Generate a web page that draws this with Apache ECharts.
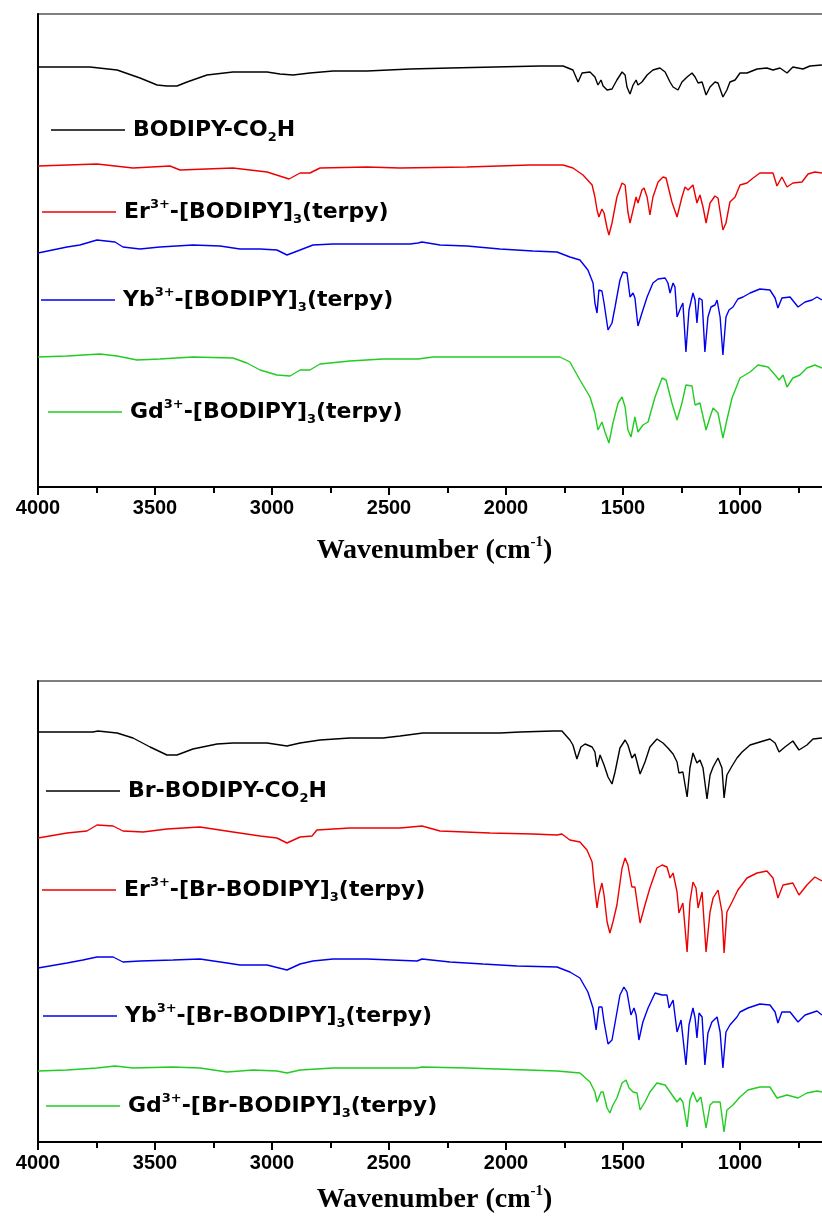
<!DOCTYPE html>
<html>
<head>
<meta charset="utf-8">
<script src="https://cdn.jsdelivr.net/npm/echarts@6/dist/echarts.min.js"></script>
<style>
  html, body { margin: 0; padding: 0; background: #fff; }
  #chart { width: 822px; height: 1221px; }
</style>
</head>
<body>
<div id="chart"></div>
<script>
// x axis: wavenumber (cm-1)
const xMin = 500
const xMax = 4000
const xStep = 500

// series names and legend labels (sub/superscripts as rich text)
const topNames = ['BODIPY-CO2H', 'Er3+-[BODIPY]3(terpy)', 'Yb3+-[BODIPY]3(terpy)', 'Gd3+-[BODIPY]3(terpy)']
const bottomNames = ['Br-BODIPY-CO2H', 'Er3+-[Br-BODIPY]3(terpy)', 'Yb3+-[Br-BODIPY]3(terpy)', 'Gd3+-[Br-BODIPY]3(terpy)']
const labelMarkup = {
  'BODIPY-CO2H': 'BODIPY-CO{sub|2}H',
  'Er3+-[BODIPY]3(terpy)': 'Er{sup|3+}-[BODIPY]{sub|3}(terpy)',
  'Yb3+-[BODIPY]3(terpy)': 'Yb{sup|3+}-[BODIPY]{sub|3}(terpy)',
  'Gd3+-[BODIPY]3(terpy)': 'Gd{sup|3+}-[BODIPY]{sub|3}(terpy)',
  'Br-BODIPY-CO2H': 'Br-BODIPY-CO{sub|2}H',
  'Er3+-[Br-BODIPY]3(terpy)': 'Er{sup|3+}-[Br-BODIPY]{sub|3}(terpy)',
  'Yb3+-[Br-BODIPY]3(terpy)': 'Yb{sup|3+}-[Br-BODIPY]{sub|3}(terpy)',
  'Gd3+-[Br-BODIPY]3(terpy)': 'Gd{sup|3+}-[Br-BODIPY]{sub|3}(terpy)'
}
const colors = ['#000000', '#ee0000', '#0000ee', '#22cc22']

// spectra, [wavenumber, transmittance (stacked, a.u.)]
// top panel
const bodipyAcid = [[4000,420],[3778,420],[3662,417],[3564,409],[3491,402],[3449,401],[3406,401],[3363,405],[3278,412],[3167,415],[3021,415],[2966,413],[2910,412],[2838,414],[2739,416],[2594,416],[2410,418],[2239,419],[1855,421],[1756,421],[1714,417],[1692,405],[1675,414],[1641,415],[1620,410],[1607,402],[1594,407],[1585,401],[1568,397],[1547,398],[1526,407],[1504,415],[1491,412],[1483,400],[1470,393],[1457,402],[1444,407],[1436,402],[1419,405],[1397,412],[1372,417],[1342,419],[1320,415],[1299,405],[1286,400],[1265,397],[1248,405],[1226,410],[1205,414],[1192,410],[1179,404],[1162,405],[1145,392],[1128,400],[1107,405],[1094,404],[1073,390],[1056,397],[1043,405],[1021,407],[1000,414],[970,414],[927,418],[885,419],[859,417],[829,419],[799,414],[774,420],[731,418],[701,421],[650,422]]
const erBodipy = [[4000,321],[3748,323],[3594,319],[3436,321],[3393,317],[3167,319],[3021,315],[2927,308],[2880,314],[2838,314],[2795,319],[2594,320],[2453,319],[2167,320],[1897,322],[1756,322],[1714,319],[1671,312],[1632,302],[1620,290],[1611,277],[1603,270],[1590,278],[1581,274],[1568,259],[1560,252],[1547,264],[1526,290],[1504,304],[1491,302],[1479,275],[1470,264],[1457,277],[1444,290],[1436,284],[1419,297],[1410,299],[1397,290],[1385,272],[1372,290],[1350,305],[1329,310],[1316,309],[1291,285],[1269,270],[1248,290],[1235,300],[1222,297],[1201,302],[1184,284],[1171,292],[1158,280],[1145,264],[1128,284],[1107,291],[1094,289],[1073,257],[1060,264],[1043,285],[1021,290],[1000,302],[970,304],[944,309],[915,314],[859,314],[842,301],[821,310],[799,300],[774,304],[735,305],[709,313],[680,315],[650,314]]
const ybBodipy = [[4000,234],[3876,240],[3821,242],[3748,247],[3671,245],[3637,240],[3564,238],[3479,240],[3338,242],[3222,241],[3137,238],[3051,238],[2979,237],[2936,232],[2880,237],[2825,242],[2739,243],[2594,243],[2410,243],[2376,244],[2359,245],[2282,242],[2167,241],[2026,238],[1885,236],[1782,235],[1727,230],[1684,227],[1650,217],[1628,204],[1620,184],[1611,174],[1603,197],[1590,196],[1581,184],[1564,157],[1547,164],[1534,180],[1513,207],[1500,215],[1483,214],[1470,190],[1457,194],[1449,189],[1436,161],[1419,174],[1397,190],[1372,204],[1350,208],[1320,209],[1308,204],[1299,194],[1286,204],[1278,200],[1269,170],[1252,180],[1244,184],[1231,135],[1218,177],[1201,194],[1192,187],[1184,164],[1175,189],[1162,187],[1150,135],[1137,170],[1124,180],[1107,182],[1098,187],[1085,170],[1073,132],[1060,170],[1047,177],[1030,180],[1009,188],[987,190],[957,194],[915,198],[872,197],[850,189],[838,179],[821,189],[786,190],[752,180],[722,185],[692,187],[671,190],[650,187]]
const gdBodipy = [[4000,130],[3876,131],[3735,133],[3662,131],[3577,127],[3479,128],[3338,130],[3167,129],[3107,124],[3051,117],[2979,112],[2923,111],[2880,117],[2838,117],[2795,123],[2667,126],[2526,128],[2376,128],[2312,130],[2026,130],[1927,130],[1769,130],[1727,125],[1684,107],[1641,90],[1620,74],[1607,57],[1590,65],[1577,55],[1560,44],[1543,64],[1521,84],[1504,90],[1491,80],[1479,57],[1466,50],[1449,70],[1436,55],[1415,62],[1393,65],[1363,90],[1333,109],[1316,107],[1291,84],[1269,67],[1248,84],[1231,102],[1205,101],[1192,82],[1171,84],[1145,57],[1128,70],[1115,79],[1094,74],[1073,49],[1056,67],[1034,89],[1000,109],[957,115],[923,122],[880,120],[850,112],[833,107],[816,112],[799,100],[774,109],[744,112],[714,119],[680,122],[650,119]]

// bottom panel
const brBodipyAcid = [[4000,416],[3765,416],[3744,417],[3662,415],[3594,410],[3521,401],[3449,393],[3406,393],[3338,399],[3235,404],[3167,405],[3021,405],[2936,402],[2880,405],[2795,408],[2667,410],[2526,410],[2453,412],[2355,415],[2239,415],[2026,415],[1940,416],[1799,417],[1761,417],[1727,408],[1714,403],[1697,389],[1680,401],[1662,404],[1632,401],[1620,396],[1611,381],[1598,393],[1590,395],[1581,383],[1564,371],[1547,364],[1534,376],[1513,400],[1491,408],[1479,403],[1462,390],[1449,394],[1440,386],[1427,374],[1406,386],[1385,401],[1355,409],[1329,405],[1308,400],[1286,394],[1269,386],[1261,375],[1244,376],[1226,351],[1214,380],[1201,395],[1184,385],[1171,388],[1158,380],[1141,349],[1128,373],[1115,381],[1094,390],[1077,380],[1068,350],[1056,373],[1034,382],[1013,390],[991,396],[957,403],[915,406],[872,409],[850,405],[833,396],[808,401],[774,407],[748,398],[714,403],[688,409],[650,410]]
const erBrBodipy = [[4000,310],[3876,315],[3791,317],[3748,323],[3679,322],[3637,317],[3551,316],[3449,319],[3308,321],[3167,316],[3051,312],[2979,310],[2936,305],[2880,311],[2829,312],[2808,318],[2667,320],[2526,320],[2453,320],[2359,322],[2282,317],[2068,315],[1885,314],[1782,313],[1761,314],[1727,308],[1684,306],[1654,298],[1632,286],[1624,266],[1611,240],[1603,253],[1590,265],[1581,253],[1568,226],[1556,215],[1543,226],[1526,243],[1504,280],[1491,290],[1479,283],[1462,261],[1449,261],[1427,225],[1406,243],[1385,260],[1355,280],[1333,283],[1312,281],[1299,270],[1286,275],[1269,256],[1261,235],[1244,245],[1226,196],[1214,246],[1201,266],[1188,260],[1179,240],[1162,256],[1145,196],[1128,236],[1115,250],[1094,258],[1077,236],[1068,195],[1056,236],[1034,246],[1009,258],[970,270],[927,275],[885,277],[859,270],[838,250],[816,263],[774,265],[748,253],[714,263],[680,271],[650,267]]
const ybBrBodipy = [[4000,180],[3876,185],[3808,188],[3748,191],[3679,191],[3637,186],[3564,187],[3423,188],[3308,189],[3192,185],[3137,183],[3021,183],[2936,178],[2880,184],[2825,187],[2739,189],[2594,189],[2380,187],[2359,189],[2239,186],[2098,184],[1953,182],[1782,181],[1727,176],[1684,170],[1650,156],[1628,140],[1615,118],[1603,141],[1590,141],[1581,126],[1564,104],[1547,108],[1534,125],[1513,153],[1496,161],[1483,156],[1466,133],[1453,140],[1444,133],[1432,108],[1415,126],[1393,140],[1363,155],[1333,153],[1312,153],[1303,140],[1286,148],[1278,146],[1269,116],[1252,128],[1244,126],[1231,83],[1218,123],[1201,140],[1192,130],[1184,110],[1175,135],[1162,131],[1150,83],[1137,115],[1120,126],[1098,131],[1085,116],[1073,80],[1060,116],[1043,123],[1013,131],[1000,136],[966,140],[915,144],[872,143],[850,136],[838,125],[821,136],[786,136],[752,126],[722,133],[671,137],[650,133]]
const gdBrBodipy = [[4000,77],[3876,78],[3748,80],[3671,82],[3594,80],[3423,81],[3308,80],[3192,76],[3081,78],[2979,77],[2936,75],[2880,78],[2739,80],[2380,80],[2359,81],[2167,80],[1910,78],[1782,77],[1684,75],[1641,66],[1620,56],[1611,46],[1594,56],[1585,56],[1568,40],[1556,35],[1543,43],[1526,50],[1504,65],[1487,68],[1474,60],[1457,56],[1440,55],[1427,38],[1406,46],[1385,56],[1355,65],[1320,63],[1299,56],[1269,46],[1256,50],[1244,46],[1226,21],[1214,48],[1201,56],[1184,46],[1167,51],[1145,20],[1128,43],[1115,46],[1085,46],[1068,16],[1056,38],[1030,43],[1000,51],[966,58],[915,61],[872,61],[842,50],[799,53],[752,50],[714,55],[671,57],[650,56]]

const topData = [bodipyAcid, erBodipy, ybBodipy, gdBodipy]
const bottomData = [brBodipyAcid, erBrBodipy, ybBrBodipy, gdBrBodipy]

const chart = echarts.init(document.getElementById('chart'))

const legendFont = 'DejaVu Sans'
const richText = {
  sub: { fontSize: 13, fontWeight: 'bold', fontFamily: legendFont, color: '#000', verticalAlign: 'bottom', lineHeight: 13 },
  sup: { fontSize: 13, fontWeight: 'bold', fontFamily: legendFont, color: '#000', verticalAlign: 'top', lineHeight: 13 }
}

// one small legend per trace, placed between the curves
const makeLegend = (name, color, left, top) => ({
  data: [name],
  left: left,
  top: top,
  padding: 0,
  icon: 'rect',
  itemWidth: 74,
  itemHeight: 1.5,
  itemStyle: { color: color },
  formatter: (n) => labelMarkup[n],
  textStyle: {
    fontSize: 22,
    fontWeight: 'bold',
    fontFamily: legendFont,
    color: '#000',
    lineHeight: 28,
    padding: [0, 0, 0, 3],
    rich: richText
  }
})

const axisName = {
  name: '{a|Wavenumber (cm}{s|-1}{a|)}',
  nameLocation: 'middle',
  nameTextStyle: {
    padding: [0, 26, 0, 0],
    rich: {
      a: { fontSize: 28, fontWeight: 'bold', fontFamily: 'Liberation Serif', color: '#000', lineHeight: 31 },
      s: { fontSize: 15, fontWeight: 'bold', fontFamily: 'Liberation Serif', color: '#000', verticalAlign: 'top', lineHeight: 15 }
    }
  }
}

const makeXAxis = (gridIndex, nameGap) => Object.assign({
  gridIndex: gridIndex,
  type: 'value',
  min: xMin,
  max: xMax,
  interval: xStep,
  inverse: true,
  nameGap: nameGap,
  axisLine: { show: true, onZero: false, lineStyle: { color: '#000', width: 2 } },
  axisTick: { show: true, inside: false, length: 8, lineStyle: { color: '#000', width: 2 } },
  minorTick: { show: true, splitNumber: 2, length: 6, lineStyle: { color: '#000', width: 2 } },
  splitLine: { show: false },
  axisLabel: {
    showMinLabel: false,
    margin: 11,
    fontSize: 20,
    fontWeight: 'bold',
    fontFamily: 'Liberation Sans',
    color: '#000',
    formatter: (v) => String(v)
  }
}, axisName)

const makeYAxis = (gridIndex, min, max) => ({
  gridIndex: gridIndex,
  type: 'value',
  min: min,
  max: max,
  axisLine: { show: true, onZero: false, lineStyle: { color: '#000', width: 2 } },
  axisTick: { show: false },
  axisLabel: { show: false },
  splitLine: { show: false }
})

const series = []
topNames.forEach((name, i) => {
  series.push({
    name: name, type: 'line', xAxisIndex: 0, yAxisIndex: 0,
    data: topData[i], showSymbol: false, silent: true,
    lineStyle: { color: colors[i], width: 1.4 }, itemStyle: { color: colors[i] }
  })
})
bottomNames.forEach((name, i) => {
  series.push({
    name: name, type: 'line', xAxisIndex: 1, yAxisIndex: 1,
    data: bottomData[i], showSymbol: false, silent: true,
    lineStyle: { color: colors[i], width: 1.4 }, itemStyle: { color: colors[i] }
  })
})

const option = {
  backgroundColor: '#fff',
  animation: false,
  grid: [
    { left: 38, top: 14, width: 819, height: 473, outerBoundsMode: 'none', containLabel: false, show: true, borderColor: '#555', borderWidth: 1.5 },
    { left: 38, top: 681, width: 819, height: 461, outerBoundsMode: 'none', containLabel: false, show: true, borderColor: '#555', borderWidth: 1.5 }
  ],
  xAxis: [makeXAxis(0, 48), makeXAxis(1, 42)],
  yAxis: [makeYAxis(0, 0, 473), makeYAxis(1, 6, 467)],
  legend: [
    makeLegend(topNames[0], colors[0], 51, 116),
    makeLegend(topNames[1], colors[1], 42, 198),
    makeLegend(topNames[2], colors[2], 41, 286),
    makeLegend(topNames[3], colors[3], 48, 398),
    makeLegend(bottomNames[0], colors[0], 46, 777),
    makeLegend(bottomNames[1], colors[1], 42, 876),
    makeLegend(bottomNames[2], colors[2], 43, 1002),
    makeLegend(bottomNames[3], colors[3], 46, 1092)
  ],
  series: series
}

chart.setOption(option)
window.addEventListener('resize', function () {
  chart.resize()
})
</script>
</body>
</html>
